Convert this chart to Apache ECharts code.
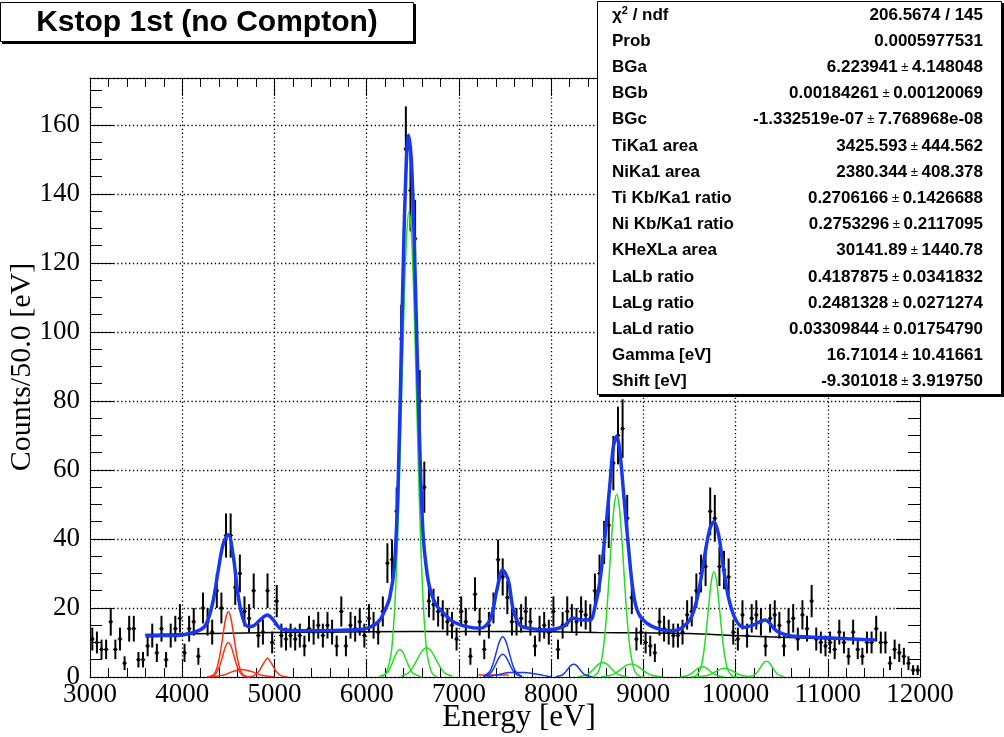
<!DOCTYPE html>
<html><head><meta charset="utf-8">
<script src="https://cdn.jsdelivr.net/npm/echarts@6/dist/echarts.min.js"></script>
<style>html,body{margin:0;padding:0;background:#fff}#c{width:1004px;height:737px}</style>
</head><body><div id="c"></div><script>
// ---------------- data ----------------
const BIN_START = 3000, BIN_WIDTH = 50;
const counts = [
 11,10,8,8,16,8,11,4,14,14, 5,5,9,12,7,14,5,12,14,17,
 7,14,16,6,20,16,13,25,20,41, 41,26,30,19,17,25,12,13,25,10,
 22,12,11,12,11,12,9,14,13,15, 12,15,13,9,19,9,15,14,16,12,
 17,15,13,19,33,34,48,98,153,141, 127,80,55,22,21,19,18,16,15,11,
 19,16,6,24,16,8,15,20,34,29, 23,16,16,17,19,16,9,14,15,13,
 19,8,15,19,17,16,19,18,17,25, 30,39,44,62,70,72,46,23,11,13,
 10,9,7,16,14,13,12,12,13,18, 19,25,30,32,48,46,32,31,29,13,
 11,18,12,17,18,16,9,17,18,15, 9,16,17,11,18,14,22,11,10,9,
 10,8,13,10,6,13,8,6,10,10, 14,10,10,4,8,7,6,4,2,2
];
const xTicks = [3000,4000,5000,6000,7000,8000,9000,10000,11000,12000];
const yTicks = [0,20,40,60,80,100,120,140,160];

// total fit (blue)
const fitTotal = [[3600,11.9],[3800,12.0],[4000,12.2],[4190,13.6],[4265,15.6],[4337,22.3],[4391,31],[4446,38.7],[4500,41.2],[4554,34.9],[4608,23.3],[4663,16.5],[4717,14.6],[4771,14.8],[4843,16.5],[4923,18],[4988,16.5],[5060,14.1],[5133,13.6],[5277,13.4],[5500,13.4],[5800,13.6],[6000,14.1],[6127,16],[6200,19.5],[6250,23],[6300,32],[6340,55],[6380,100],[6420,142],[6455,157],[6490,147],[6530,112],[6570,72],[6610,42],[6650,31],[6690,25.2],[6750,21],[6800,19.4],[6940,16],[7085,14.6],[7229,14.1],[7337,16.5],[7410,25],[7475,31],[7536,28],[7590,19.4],[7663,15],[7771,14.1],[7952,13.6],[8132,14.6],[8241,17],[8349,16.5],[8422,16.5],[8476,20.4],[8530,28],[8584,40.7],[8638,56],[8675,66.8],[8711,69.7],[8747,64.8],[8783,54.2],[8838,37.8],[8892,24.3],[8946,18.5],[9036,15.6],[9181,13.8],[9325,13.4],[9434,14.6],[9524,17.5],[9596,24.3],[9669,35.8],[9723,43.1],[9766,45],[9813,41.6],[9867,32],[9921,23.3],[9994,17],[10084,14.4],[10193,15.1],[10320,16.5],[10446,13.3],[10600,11.9],[10735,11.7],[11096,11.2],[11512,10.7]];
// background (black)
const fitBackground = [[3600,12.3],[4500,12.7],[5500,13.0],[6500,13.2],[7500,13.2],[8000,13.1],[8500,12.9],[9000,12.8],[9500,12.6],[10000,12.0],[10500,11.5],[11000,11.1],[11512,10.8]];
// Ti components (red)
const tiKa1 = [[4270,0],[4350,1.0],[4400,5.2],[4425,9.1],[4450,13.6],[4475,17.4],[4500,18.9],[4525,17.4],[4550,13.6],[4575,9.1],[4600,5.2],[4650,1.0],[4730,0]];
const tiKa2 = [[4270,0],[4350,0.5],[4400,2.8],[4425,4.8],[4450,7.2],[4475,9.2],[4500,10],[4525,9.2],[4550,7.2],[4575,4.8],[4600,2.8],[4650,0.5],[4730,0]];
const tiTail = [[4300,0],[4450,0.6],[4550,1.6],[4650,2.2],[4750,1.6],[4850,0.6],[5000,0]];
const tiKb = [[4700,0],[4780,0.4],[4830,1.6],[4860,2.9],[4890,4.3],[4925,5.4],[4960,4.3],[4990,2.9],[5020,1.6],[5070,0.4],[5150,0]];
const tiFlat = [[7210,0.6],[7540,0.6]];
// kaonic He components (green)
const heLa = [[6160,0.1],[6210,1.1],[6260,5.9],[6285,12.3],[6310,23.2],[6335,39.7],[6360,61.9],[6385,87.3],[6410,111.1],[6435,128.6],[6460,135],[6485,128.6],[6510,111.1],[6535,87.3],[6560,61.9],[6585,39.7],[6610,23.2],[6635,12.3],[6660,5.9],[6710,1.1],[6760,0.1]];
const heLaLow = [[6130,0.1],[6220,1.1],[6255,2.6],[6290,4.85],[6325,7.06],[6360,8],[6395,7.06],[6430,4.85],[6465,2.6],[6500,1.1],[6590,0.1]];
const heLaHigh = [[6370,0.2],[6450,1.15],[6500,2.77],[6550,5.16],[6600,7.5],[6650,8.5],[6700,7.5],[6750,5.16],[6800,2.77],[6850,1.15],[6930,0.2]];
const heLb = [[8411,0],[8461,0.2],[8511,1.5],[8536,3.5],[8561,7.2],[8586,13.2],[8611,21.8],[8636,32.1],[8661,42.4],[8686,50.1],[8711,53],[8736,50.1],[8761,42.4],[8786,32.1],[8811,21.8],[8836,13.2],[8861,7.2],[8886,3.5],[8911,1.5],[8961,0.2],[9011,0]];
const heLbLow = [[8290,0.05],[8380,0.57],[8425,1.36],[8470,2.55],[8515,3.71],[8560,4.2],[8605,3.71],[8650,2.55],[8695,1.36],[8740,0.57],[8830,0.05]];
const heLbHigh = [[8540,0.04],[8650,0.51],[8705,1.23],[8760,2.3],[8815,3.35],[8870,3.8],[8925,3.35],[8980,2.3],[9035,1.23],[9090,0.51],[9200,0.04]];
const heLg = [[9516,0.02],[9566,0.27],[9616,2.1],[9641,4.8],[9666,9.4],[9691,15.6],[9716,22.6],[9741,28.3],[9766,30.5],[9791,28.3],[9816,22.6],[9841,15.6],[9866,9.4],[9891,4.8],[9916,2.1],[9966,0.27],[10016,0.02]];
const heLgLow = [[9400,0.03],[9480,0.41],[9520,0.97],[9560,1.82],[9600,2.65],[9640,3],[9680,2.65],[9720,1.82],[9760,0.97],[9800,0.41],[9880,0.03]];
const heLgHigh = [[9580,0.03],[9680,0.34],[9730,0.81],[9780,1.52],[9830,2.21],[9880,2.5],[9930,2.21],[9980,1.52],[10030,0.81],[10080,0.34],[10180,0.03]];
const heLd = [[10140,0.05],[10205,0.62],[10235,1.41],[10270,2.79],[10305,4.16],[10335,4.6],[10365,4.16],[10400,2.79],[10435,1.41],[10465,0.62],[10530,0.05]];
// Ni components (blue)
const niKa1 = [[7265,0.13],[7335,1.6],[7370,3.8],[7405,7.1],[7440,10.3],[7475,11.7],[7510,10.3],[7545,7.1],[7580,3.8],[7615,1.6],[7685,0.13]];
const niKa2 = [[7265,0.07],[7335,0.89],[7370,2.14],[7405,4.0],[7440,5.82],[7475,6.6],[7510,5.82],[7545,4.0],[7580,2.14],[7615,0.89],[7685,0.07]];
const niTail = [[7300,0],[7450,0.8],[7550,1.3],[7700,1.3],[7850,0.8],[7950,0.3],[8000,0]];
const niKb = [[8050,0.04],[8115,0.5],[8145,1.13],[8180,2.24],[8215,3.35],[8245,3.7],[8275,3.35],[8310,2.24],[8345,1.13],[8375,0.5],[8440,0.04]];

// stats box
const statNames = ['χ{sup|2} / ndf','Prob','BGa','BGb','BGc','TiKa1 area','NiKa1 area','Ti Kb/Ka1 ratio','Ni Kb/Ka1 ratio','KHeXLa area','LaLb ratio','LaLg ratio','LaLd ratio','Gamma [eV]','Shift [eV]'];
const statValues = ['206.5674 / 145','0.0005977531','6.223941','0.00184261','-1.332519e-07','3425.593','2380.344','0.2706166','0.2753296','30141.89','0.4187875','0.2481328','0.03309844','16.71014','-9.301018'];
const statErrors = [null,null,'4.148048','0.00120069','7.768968e-08','444.562','408.378','0.1426688','0.2117095','1440.78','0.0341832','0.0271274','0.01754790','10.41661','3.919750'];
const titleText = 'Kstop 1st (no Compton)';
const xTitle = 'Energy [eV]';
const yTitle = 'Counts/50.0 [eV]';

// ---------------- chart ----------------
const chart = echarts.init(document.getElementById('c'), null, {renderer: 'canvas'});
const histData = counts.map((v, i) => [BIN_START + BIN_WIDTH * (i + 0.5), v]);
const Y_MAX = 173.6;
const SANS = '"Liberation Sans", Arial, Helvetica, sans-serif';
const SERIF = '"Liberation Serif", "Times New Roman", serif';

const dotted = {color: '#000', width: 1.3, type: [1.3, 2.6]};
function mkX(pos, labels) {
  return {
    type: 'value', position: pos, min: 3000, max: 12000, interval: 1000,
    axisLine: {show: true, onZero: false, lineStyle: {color: '#000', width: 1}},
    axisTick: {show: true, inside: true, length: 18, lineStyle: {color: '#000', width: 1}},
    minorTick: {show: true, splitNumber: 5, length: 9, lineStyle: {color: '#000', width: 1}},
    splitLine: {show: labels, lineStyle: dotted},
    axisLabel: {show: labels, color: '#000', fontFamily: SERIF, fontSize: 27, margin: 4,
      formatter: v => xTicks.includes(v) ? String(v) : ''}
  };
}
function mkY(pos, labels) {
  return {
    type: 'value', position: pos, min: 0, max: Y_MAX, interval: 20,
    axisLine: {show: true, onZero: false, lineStyle: {color: '#000', width: 1}},
    axisTick: {show: true, inside: true, length: 24, lineStyle: {color: '#000', width: 1}},
    minorTick: {show: true, splitNumber: 4, length: 12, lineStyle: {color: '#000', width: 1}},
    splitLine: {show: labels, lineStyle: dotted},
    axisLabel: {show: labels, color: '#000', fontFamily: SERIF, fontSize: 27, margin: 10,
      formatter: v => yTicks.includes(v) ? String(v) : ''}
  };
}
function curve(data, color, width, z) {
  return {type: 'line', data, xAxisIndex: 0, yAxisIndex: 0, showSymbol: false, smooth: 0.35,
    clip: true, silent: true, z: z || 3, lineStyle: {color, width}};
}
const RED = '#ff3010', GREEN = '#20e020', BLUE = '#1838f0';

const graphic = [];
// title box
graphic.push({type: 'rect', z: 100, shape: {x: 2, y: 4, width: 414, height: 40}, style: {fill: '#000'}});
graphic.push({type: 'rect', z: 101, shape: {x: 0.5, y: 2.5, width: 413, height: 39}, style: {fill: '#fff', stroke: '#000', lineWidth: 1}});
graphic.push({type: 'text', z: 102, x: 207, y: 23, style: {text: titleText, fontFamily: SANS, fontWeight: 'bold', fontSize: 30, fill: '#000', textAlign: 'center', textVerticalAlign: 'middle'}});
// stats box
graphic.push({type: 'rect', z: 100, shape: {x: 599, y: 3, width: 405, height: 394}, style: {fill: '#000'}});
graphic.push({type: 'rect', z: 101, shape: {x: 597.5, y: 1.5, width: 404, height: 393}, style: {fill: '#fff', stroke: '#000', lineWidth: 1}});
statNames.forEach((n, k) => {
  const y = 15 + 26.2 * k;
  graphic.push({type: 'text', z: 102, x: 612, y, style: {text: n, fontFamily: SANS, fontWeight: 'bold', fontSize: 17, fill: '#000', textAlign: 'left', textVerticalAlign: 'middle',
    rich: {sup: {fontSize: 11, fontWeight: 'bold', fontFamily: SANS, verticalAlign: 'top', padding: [0, 0, 9, 0]}}}});
  const t = statErrors[k] ? statValues[k] + '{pm| ± }' + statErrors[k] : statValues[k];
  graphic.push({type: 'text', z: 102, x: 983, y, style: {text: t, fontFamily: SANS, fontWeight: 'bold', fontSize: 17, fill: '#000', textAlign: 'right', textVerticalAlign: 'middle',
    rich: {pm: {fontSize: 13, fontWeight: 'normal', fontFamily: SANS}}}});
});
// axis titles
graphic.push({type: 'text', z: 50, x: 519, y: 718, style: {text: xTitle, fontFamily: SERIF, fontSize: 31, fill: '#000', textAlign: 'center', textVerticalAlign: 'middle'}});
graphic.push({type: 'text', z: 50, x: 22, y: 367, rotation: Math.PI / 2, style: {text: yTitle, fontFamily: SERIF, fontSize: 30, fill: '#000', textAlign: 'center', textVerticalAlign: 'middle'}});

chart.setOption({
  animation: false,
  backgroundColor: '#fff',
  grid: {left: 90, right: 84, top: 78, bottom: 60, containLabel: false},
  xAxis: [mkX('bottom', true), mkX('top', false)],
  yAxis: [mkY('left', true), mkY('right', false)],
  graphic,
  series: [
    {type: 'custom', data: histData, xAxisIndex: 0, yAxisIndex: 0, clip: true, silent: true, z: 2,
      renderItem(params, api) {
        const x = api.value(0), y = api.value(1), e = Math.sqrt(y);
        const p = api.coord([x, y]);
        const t = api.coord([x, y + e]);
        const b = api.coord([x, Math.max(0, y - e)]);
        const l = api.coord([x - BIN_WIDTH / 2, y]);
        const r = api.coord([x + BIN_WIDTH / 2, y]);
        return {type: 'group', children: [
          {type: 'line', shape: {x1: p[0], y1: t[1], x2: p[0], y2: b[1]}, style: {stroke: '#000', lineWidth: 2}},
          {type: 'line', shape: {x1: l[0], y1: p[1], x2: r[0], y2: p[1]}, style: {stroke: '#000', lineWidth: 1}},
          {type: 'rect', shape: {x: p[0] - 1.5, y: p[1] - 1.5, width: 3, height: 3}, style: {fill: '#000'}}
        ]};
      }},
    curve(fitBackground, '#000', 1.5, 3),
    curve(tiKa1, RED, 1.5), curve(tiKa2, RED, 1.5), curve(tiTail, RED, 1.5), curve(tiKb, RED, 1.5), curve(tiFlat, RED, 1.5),
    curve(heLa, GREEN, 1.5), curve(heLaLow, GREEN, 1.5), curve(heLaHigh, GREEN, 1.5),
    curve(heLb, GREEN, 1.5), curve(heLbLow, GREEN, 1.5), curve(heLbHigh, GREEN, 1.5),
    curve(heLg, GREEN, 1.5), curve(heLgLow, GREEN, 1.5), curve(heLgHigh, GREEN, 1.5), curve(heLd, GREEN, 1.5),
    curve(niKa1, BLUE, 1.5), curve(niKa2, BLUE, 1.5), curve(niTail, BLUE, 1.5), curve(niKb, BLUE, 1.5),
    curve(fitTotal, BLUE, 3.5, 4)
  ]
});
</script></body></html>
